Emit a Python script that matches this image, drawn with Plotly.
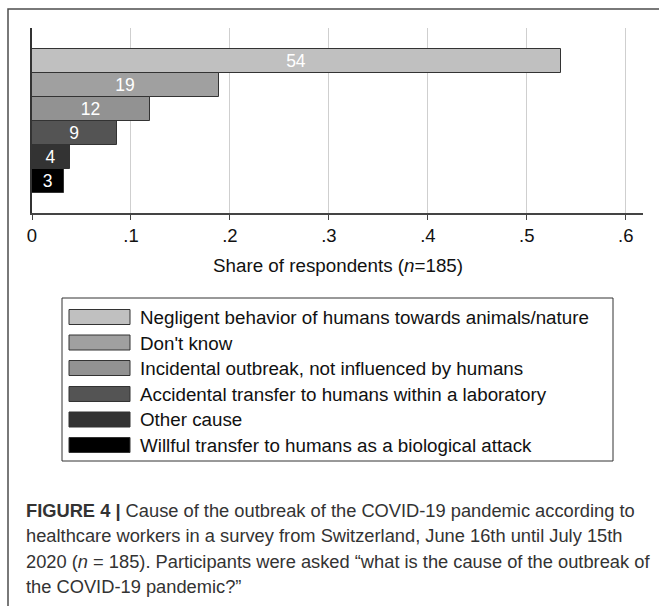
import plotly.graph_objects as go

# ---- data ----
causes = [
    "Negligent behavior of humans towards animals/nature",
    "Don't know",
    "Incidental outbreak, not influenced by humans",
    "Accidental transfer to humans within a laboratory",
    "Other cause",
    "Willful transfer to humans as a biological attack",
]
shares = [0.535, 0.189, 0.119, 0.086, 0.038, 0.032]
pct_labels = ["54", "19", "12", "9", "4", "3"]
bar_colors = ["#c0c0c0", "#a0a0a0", "#929292", "#545454", "#333333", "#000000"]
tick_vals = [0, 0.1, 0.2, 0.3, 0.4, 0.5, 0.6]
tick_text = ["0", ".1", ".2", ".3", ".4", ".5", ".6"]
caption_lines = [
    "<b>FIGURE 4 |</b> Cause of the outbreak of the COVID-19 pandemic according to",
    "healthcare workers in a survey from Switzerland, June 16th until July 15th",
    "2020 (<i>n</i> = 185). Participants were asked \u201cwhat is the cause of the outbreak of",
    "the COVID-19 pandemic?\u201d",
]

W, H = 659, 606
PL, PT, PR, PB = 32, 28, 643, 213
FONT = "Liberation Sans, Arial, sans-serif"


def px(x):
    return (x - PL) / (PR - PL)


def py(y):
    return (PB - y) / (PB - PT)


fig = go.Figure()
for i, (c, s, lab, col) in enumerate(zip(causes, shares, pct_labels, bar_colors)):
    fig.add_trace(go.Bar(
        x=[s], y=[i], orientation="h", width=1, name=c,
        marker=dict(color=col, line=dict(color="#333333", width=1)),
        text=[lab], textposition="inside", insidetextanchor="middle",
        constraintext="none", textangle=0,
        textfont=dict(color="white", size=17.5, family=FONT),
        showlegend=False, hoverinfo="skip",
    ))

shapes = []
annotations = []

# outer frame
shapes.append(dict(type="rect", xref="paper", yref="paper",
                   x0=px(8), x1=px(720), y0=py(720), y1=py(9),
                   line=dict(color="#4d4d4d", width=1.5), fillcolor="rgba(0,0,0,0)"))

# legend box
shapes.append(dict(type="rect", xref="paper", yref="paper",
                   x0=px(62), x1=px(613), y0=py(461), y1=py(298),
                   line=dict(color="#333333", width=1), fillcolor="rgba(0,0,0,0)"))
leg_y = [317, 342.5, 368, 394, 419.5, 445]
for c, col, yc in zip(causes, bar_colors, leg_y):
    shapes.append(dict(type="rect", xref="paper", yref="paper",
                       x0=px(69), x1=px(130), y0=py(yc + 7.5), y1=py(yc - 7.5),
                       line=dict(color="#333333", width=1), fillcolor=col))
    annotations.append(dict(xref="paper", yref="paper", x=px(138), y=py(yc + 0.5),
                            xanchor="left", yanchor="middle", showarrow=False,
                            text=c, font=dict(size=18.8, color="#111111", family=FONT)))

# axis title
annotations.append(dict(xref="paper", yref="paper", x=0.5, y=py(265),
                        xanchor="center", yanchor="middle", showarrow=False,
                        text="Share of respondents (<i>n</i>=185)",
                        font=dict(size=18.8, color="#111111", family=FONT)))

# caption
cap_y = [510, 535.5, 561, 586]
for line, yc in zip(caption_lines, cap_y):
    annotations.append(dict(xref="paper", yref="paper", x=px(24), y=py(yc),
                            xanchor="left", yanchor="middle", showarrow=False,
                            text=line, font=dict(size=18.3, color="#333333", family=FONT)))

fig.update_layout(
    width=W, height=H,
    margin=dict(l=PL, r=W - PR, t=PT, b=H - PB, pad=0),
    paper_bgcolor="white", plot_bgcolor="white",
    barmode="overlay",
    bargap=0,
    showlegend=False,
    font=dict(family=FONT, color="#111111"),
    xaxis=dict(range=[0, 0.6174], tickvals=tick_vals, ticktext=tick_text,
               showgrid=True, gridcolor="#cfcfcf", gridwidth=1, zeroline=False,
               showline=True, linecolor="#444444", linewidth=1.5,
               ticks="outside", ticklen=5, tickcolor="#444444", tickwidth=1,
               tickfont=dict(size=18.5, color="#111111", family=FONT),
               fixedrange=True),
    yaxis=dict(range=[6.33, -1.375], showticklabels=False, showgrid=False,
               zeroline=False, showline=True, linecolor="#333333", linewidth=1.5,
               ticks="", fixedrange=True),
    shapes=shapes,
    annotations=annotations,
)

fig.write_html("out.html", config={"displayModeBar": False},
               post_script="document.body.style.margin='0';")
